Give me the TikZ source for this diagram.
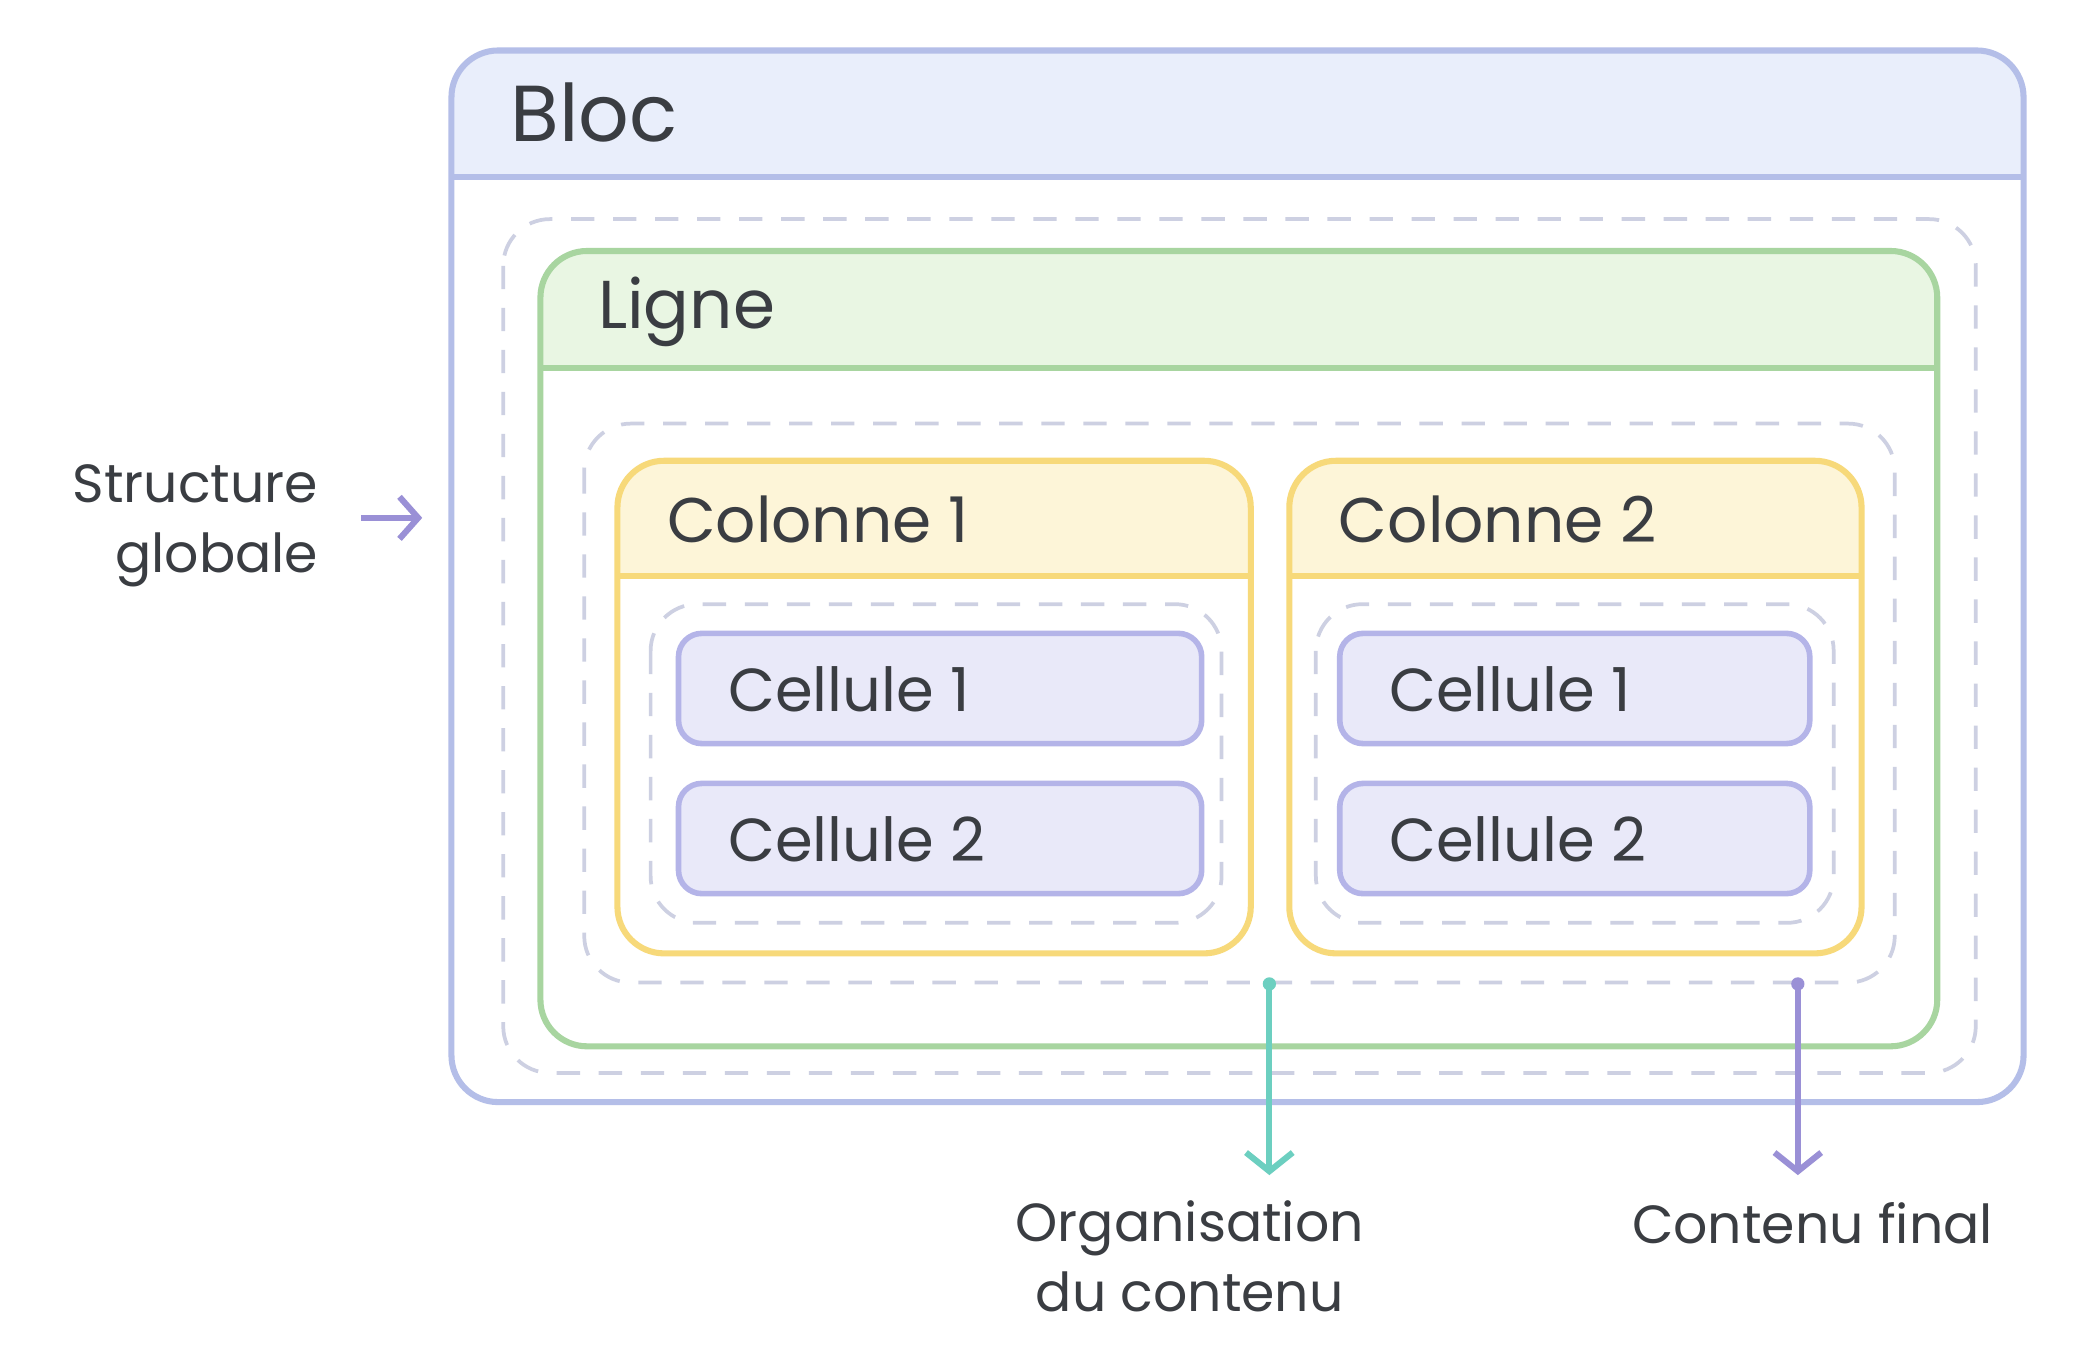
\documentclass[tikz,border=0pt]{standalone}
\usepackage{fontspec}
\setmainfont{Poppins}
\usetikzlibrary{arrows.meta}
\definecolor{blocline}{HTML}{B4BEE8}
\definecolor{blocfill}{HTML}{E9EEFB}
\definecolor{ligneline}{HTML}{A8D5A0}
\definecolor{lignefill}{HTML}{E9F6E3}
\definecolor{colline}{HTML}{F7D97A}
\definecolor{colfill}{HTML}{FDF5D8}
\definecolor{cellline}{HTML}{B4B4E8}
\definecolor{cellfill}{HTML}{E9E9F9}
\definecolor{dashline}{HTML}{CDD0E2}
\definecolor{tealarrow}{HTML}{6CCFC0}
\definecolor{purplearrow}{HTML}{9A90D6}
\definecolor{textdark}{HTML}{3A3D42}
\tikzset{
  box/.style={rounded corners=10pt, line width=1.3pt},
  dashbox/.style={rounded corners=10pt, dash pattern=on 5pt off 4pt, draw=dashline, line width=0.8pt},
  cell/.style={draw=cellline, fill=cellfill, rounded corners=5pt, line width=1.2pt},
  title/.style={anchor=west, text=textdark, font=\fontsize{#1}{#1}\selectfont},
  note/.style={text=textdark, font=\fontsize{11.5}{15}\selectfont, align=center}
}
\begin{document}
\begin{tikzpicture}[x=0.01cm,y=-0.01cm]
\useasboundingbox[fill=white] (0,0) rectangle (1568,1020);
% bloc
\begin{scope}
\clip[rounded corners=10pt] (340,38) rectangle (1524,830);
\fill[blocfill] (340,38) rectangle (1524,133);
\end{scope}
\draw[box, draw=blocline] (340,38) rectangle (1524,830);
\draw[blocline, line width=1.3pt] (340,133) -- (1524,133);
\node[title=17] (bloc) at (372,85) {Bloc};
\draw[dashbox] (379,165) rectangle (1488,808);
% ligne
\begin{scope}
\clip[rounded corners=10pt] (407,189) rectangle (1459,788);
\fill[lignefill] (407,189) rectangle (1459,277);
\end{scope}
\draw[box, draw=ligneline] (407,189) rectangle (1459,788);
\draw[ligneline, line width=1.3pt] (407,277) -- (1459,277);
\node[title=14.5] (ligne) at (438,235) {Ligne};
\draw[dashbox] (440,319) rectangle (1427,740);
% colonnes
\foreach \xa/\xb/\n in {465/942/1, 971/1402/2}{
  \begin{scope}
  \clip[rounded corners=10pt] (\xa,347) rectangle (\xb,718);
  \fill[colfill] (\xa,347) rectangle (\xb,434);
  \end{scope}
  \draw[box, draw=colline] (\xa,347) rectangle (\xb,718);
  \draw[colline, line width=1.3pt] (\xa,434) -- (\xb,434);
  \node[title=13.5] (col\n) at (\xa+25,391) {Colonne \n};
}
\draw[dashbox] (490,455) rectangle (920,695);
\draw[dashbox] (991,455) rectangle (1381,695);
% cellules
\foreach \xa/\xb/\c in {511/905/1, 1009/1363/2}{
  \draw[cell] (\xa,477) rectangle (\xb,560);
  \draw[cell] (\xa,590) rectangle (\xb,673);
  \node[title=13] (cell\c a) at (\xa+25,519) {Cellule 1};
  \node[title=13] (cell\c b) at (\xa+25,632) {Cellule 2};
}
% annotations
\node[note, align=right, anchor=east] (structure) at (252,396) {Structure\\globale};
\coordinate (sa) at (272,390);
\coordinate (sb) at (318,390);
\draw[purplearrow, line width=1.3pt, -{Straight Barb[length=4pt,width=9pt]}] (sa) -- (sb);
\coordinate (ta) at (956,741);
\coordinate (tb) at (956,885);
\fill[tealarrow] (ta) circle (5);
\draw[tealarrow, line width=1.3pt, -{Straight Barb[length=4pt,width=10pt]}] (ta) -- (tb);
\node[note] (orga) at (896,946) {Organisation\\du contenu};
\coordinate (pa) at (1354,741);
\coordinate (pb) at (1354,885);
\fill[purplearrow] (pa) circle (5);
\draw[purplearrow, line width=1.3pt, -{Straight Barb[length=4pt,width=10pt]}] (pa) -- (pb);
\node[note] (final) at (1365,921) {Contenu final};
\end{tikzpicture}
\end{document}
